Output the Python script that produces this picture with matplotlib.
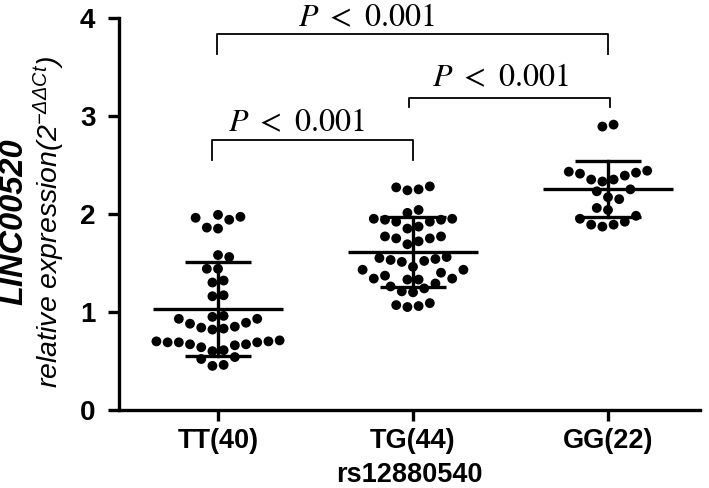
import numpy as np
import matplotlib
matplotlib.use("Agg")
import matplotlib.pyplot as plt

# ---------------- data ----------------
groups = ["TT(40)", "TG(44)", "GG(22)"]
x_title = "rs12880540"
y_title_1 = "LINC00520"
y_title_2 = r"relative expression(2$^{-\Delta\Delta Ct}$)"

tt_values = [0.45, 0.46, 0.52, 0.54,
             0.60, 0.61, 0.64, 0.66, 0.67, 0.67, 0.69, 0.69, 0.69, 0.70, 0.70, 0.71,
             0.82, 0.83, 0.84, 0.85, 0.88, 0.89, 0.93, 0.93,
             0.95, 0.96, 1.16, 1.17, 1.30, 1.32, 1.44, 1.44, 1.56, 1.58,
             1.85, 1.86, 1.94, 1.96, 1.97, 1.99]
tg_values = [1.05, 1.06, 1.07, 1.09,
             1.20, 1.21, 1.24, 1.26, 1.29,
             1.33, 1.33, 1.34, 1.34, 1.37, 1.40, 1.43, 1.43,
             1.46, 1.51, 1.52, 1.53, 1.54, 1.55, 1.56,
             1.69, 1.72, 1.75, 1.75, 1.77, 1.77,
             1.85, 1.87, 1.92, 1.92, 1.94, 1.94, 1.95, 1.95,
             2.01, 2.04,
             2.24, 2.25, 2.27, 2.28]
gg_values = [1.87, 1.89, 1.89, 1.92, 1.95, 1.98,
             2.04, 2.06, 2.15, 2.17, 2.23, 2.25,
             2.33, 2.35, 2.35, 2.39, 2.41, 2.42, 2.43, 2.44,
             2.89, 2.91]
means = [1.03, 1.61, 2.25]
sds = [0.48, 0.355, 0.285]

comparisons = [(-0.005, 2.0), (0.98, 2.01), (-0.03, 1.0)]
bracket_tops = [3.83, 3.18, 2.75]
bracket_legs = [3.63, 3.09, 2.55]
p_texts = [r"$P\ <\ 0.001$", r"$P\ <\ 0.001$", r"$P\ <\ 0.001$"]
p_text_x = [0.76, 1.45, 0.40]
p_text_y = [3.91, 3.30, 2.84]
yticks = [0, 1, 2, 3, 4]

# ---------------- style ----------------
plt.rcParams["font.family"] = ["Liberation Sans", "DejaVu Sans"]
plt.rcParams["mathtext.fontset"] = "custom"
plt.rcParams["mathtext.rm"] = "Liberation Sans:italic"
plt.rcParams["mathtext.it"] = "Liberation Sans:italic"
plt.rcParams["mathtext.bf"] = "Liberation Sans:bold"

fig = plt.figure(figsize=(7.09, 4.88), dpi=100)
ax = fig.add_axes([0.1678, 0.1598, 0.819, 0.8039])
ax.set_xlim(-0.508, 2.47)
ax.set_ylim(0, 4)

# ---------------- swarm layout (Prism-like rows) ----------------
def swarm_offsets(values, ax, row_span=0.125, step_px=11.2, diam_px=10.0):
    vals_all = np.asarray(values, dtype=float)
    order = np.argsort(vals_all, kind="stable")
    vals = vals_all[order]
    p0 = ax.transData.transform((0, 0))
    p1 = ax.transData.transform((1, 1))
    px_x = p1[0] - p0[0]
    px_y = p1[1] - p0[1]
    step = step_px / px_x
    rows = []
    i = 0
    while i < len(vals):
        j = i
        while j < len(vals) and vals[j] - vals[i] < row_span - 1e-9:
            j += 1
        rows.append(list(range(i, j)))
        i = j
    offs = np.zeros(len(vals))
    placed = []

    def collides(xs, v):
        for qx, qv in placed:
            dx = (xs - qx) * step_px
            dy = (v - qv) * px_y
            if dx * dx + dy * dy < diam_px * diam_px:
                return True
        return False

    for row in rows:
        n = len(row)
        slots = [k - (n - 1) / 2 for k in range(n)]
        slots.sort(key=lambda s: (abs(s), s))
        for idx, slot in zip(row, slots):
            if slot == 0:
                cands = [0]
                for k in range(1, 20):
                    cands += [k, -k]
            else:
                sg = 1 if slot > 0 else -1
                cands = [slot + sg * k for k in range(20)]
            for c in cands:
                if not collides(c, vals[idx]):
                    break
            placed.append((c, vals[idx]))
            offs[idx] = c
    res = np.zeros(len(vals))
    res[order] = offs * step
    return res

all_values = [tt_values, tg_values, gg_values]
for gi, vals in enumerate(all_values):
    offs = swarm_offsets(vals, ax)
    ax.scatter(gi + offs, vals, s=50, color="black", edgecolors="none", zorder=3)
    m, sd = means[gi], sds[gi]
    ax.plot([gi - 0.333, gi + 0.333], [m, m], color="black", lw=2.4, zorder=4,
            solid_capstyle="butt")
    ax.plot([gi, gi], [m - sd, m + sd], color="black", lw=2.4, zorder=4)
    for yy in (m - sd, m + sd):
        ax.plot([gi - 0.167, gi + 0.167], [yy, yy], color="black", lw=2.4, zorder=4,
                solid_capstyle="butt")

# brackets and p-values
for (xa, xb), top, leg, txt, tx, ty in zip(comparisons, bracket_tops, bracket_legs,
                                            p_texts, p_text_x, p_text_y):
    ax.plot([xa, xa, xb, xb], [leg, top, top, leg], color="black", lw=1.3,
            clip_on=False, zorder=5)
    ax.text(tx, ty, txt, ha="center", va="baseline", fontsize=23,
            math_fontfamily="stix", clip_on=False)

# axes styling
for side in ("top", "right"):
    ax.spines[side].set_visible(False)
for side in ("left", "bottom"):
    ax.spines[side].set_linewidth(2.4)
ax.set_yticks(yticks)
ax.set_yticklabels([str(t) for t in yticks], fontsize=20, fontweight="bold")
ax.set_xticks(range(len(groups)))
ax.set_xticklabels(groups, fontsize=19.5, fontweight="bold")
ax.tick_params(axis="both", length=8, width=2.4, direction="out")
ax.tick_params(axis="y", pad=9)
ax.tick_params(axis="x", pad=5)
ax.set_xlabel(x_title, fontsize=19.5, fontweight="bold", labelpad=6)

fig.text(0.02, 0.545, y_title_1, rotation=90, ha="center", va="center",
         fontsize=23.5, fontweight="bold", style="italic")
fig.text(0.07, 0.545, y_title_2, rotation=90, ha="center", va="center",
         fontsize=20.5, style="italic", math_fontfamily="custom")

fig.savefig("out.png", dpi=100)
